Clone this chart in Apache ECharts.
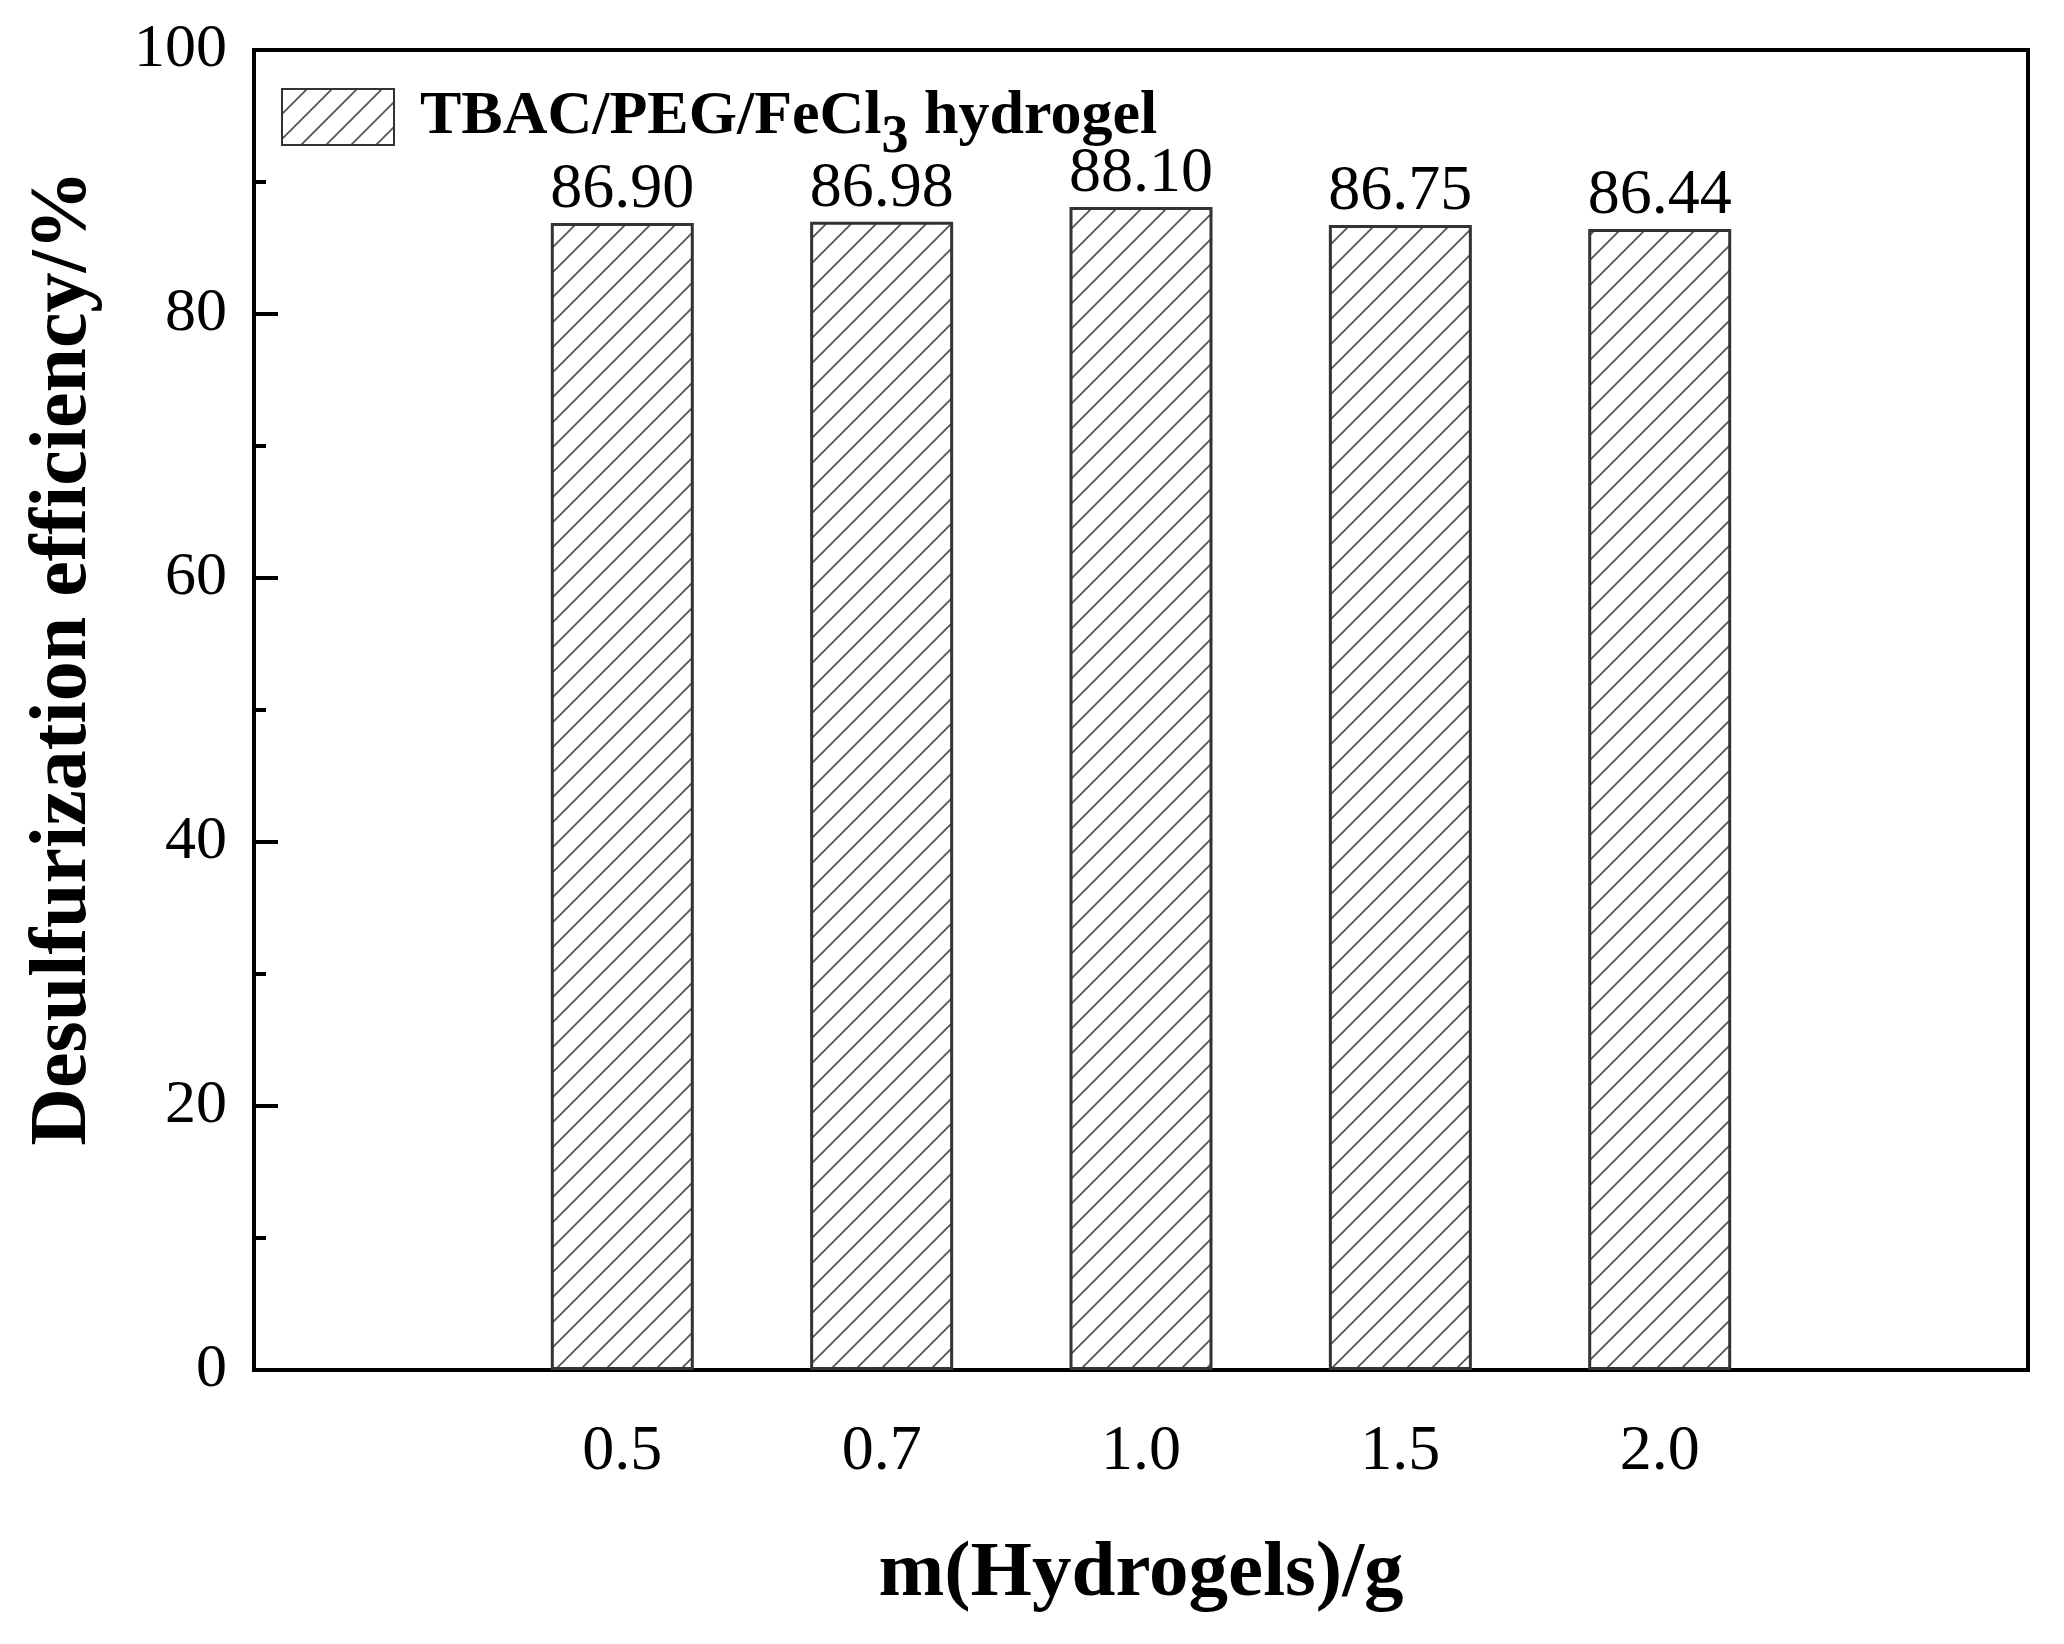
<!DOCTYPE html>
<html>
<head>
<meta charset="utf-8">
<title>Desulfurization efficiency vs hydrogel mass</title>
<script src="https://cdn.jsdelivr.net/npm/echarts@6/dist/echarts.min.js"></script>
<style>
    html, body { margin: 0; padding: 0; background: #fff; }
    #chart { width: 2064px; height: 1644px; }
</style>
</head>
<body>
<div id="chart"></div>
<script>
// Data
const massLabels = ['0.5', '0.7', '1.0', '1.5', '2.0'];
const efficiency = [86.90, 86.98, 88.10, 86.75, 86.44];
const yTicks = { min: 0, max: 100, interval: 20 };

const FONT = '"Liberation Serif", "Times New Roman", serif';

// hatch fill "/" for the bars
function makeHatch() {
    const s = 25;
    const c = document.createElement('canvas');
    c.width = s; c.height = s;
    const ctx = c.getContext('2d');
    ctx.fillStyle = '#fff';
    ctx.fillRect(0, 0, s, s);
    ctx.strokeStyle = '#555';
    ctx.lineWidth = 1.8;
    ctx.beginPath();
    ctx.moveTo(-2, s + 2); ctx.lineTo(s + 2, -2);
    ctx.moveTo(-2, 2); ctx.lineTo(2, -2);
    ctx.moveTo(s - 2, s + 2); ctx.lineTo(s + 2, s - 2);
    ctx.stroke();
    return c;
}

const chart = echarts.init(document.getElementById('chart'));
chart.setOption({
    backgroundColor: '#fff',
    animation: false,
    grid: {
        left: 254, right: 36, top: 50, bottom: 274,
        show: true, borderColor: '#000', borderWidth: 4
    },
    legend: {
        left: 281, top: 86, padding: 0,
        itemWidth: 112, itemHeight: 56, itemGap: 32,
        icon: 'rect',
        formatter: () => '{g|}{b|TBAC/PEG/FeCl}{sub|3}{b| hydrogel}',
        textStyle: {
            color: '#000',
            rich: {
                g: { width: 21 },
                b: { fontFamily: FONT, fontWeight: 'bold', fontSize: 62, lineHeight: 56, color: '#000' },
                sub: {
                    fontFamily: FONT, fontWeight: 'bold', fontSize: 54, lineHeight: 36,
                    verticalAlign: 'top', padding: [22, 0, 0, 0], color: '#000'
                }
            }
        }
    },
    xAxis: {
        type: 'value',
        min: -1.42, max: 5.42,
        name: 'm(Hydrogels)/g',
        nameLocation: 'middle',
        nameGap: 165,
        nameTextStyle: { fontFamily: FONT, fontWeight: 'bold', fontSize: 79, color: '#000' },
        axisLine: { show: true, onZero: false, lineStyle: { color: '#000', width: 4 } },
        axisTick: { show: false },
        splitLine: { show: false },
        axisLabel: {
            customValues: massLabels.map((_, i) => i),
            formatter: v => massLabels[Math.round(v)],
            margin: 50,
            fontFamily: FONT, fontSize: 64, color: '#000'
        }
    },
    yAxis: {
        type: 'value',
        min: yTicks.min, max: yTicks.max, interval: yTicks.interval,
        name: 'Desulfurization efficiency/%',
        nameLocation: 'middle',
        nameGap: 150,
        nameTextStyle: {
            fontFamily: FONT, fontWeight: 'bold', fontSize: 80, color: '#000',
            padding: [0, 0, 0, 104]
        },
        axisLine: { show: true, onZero: false, lineStyle: { color: '#000', width: 4 } },
        axisTick: { show: true, inside: true, length: 24, lineStyle: { color: '#000', width: 4 } },
        minorTick: { show: true, splitNumber: 2, length: 12, lineStyle: { color: '#000', width: 4 } },
        splitLine: { show: false },
        minorSplitLine: { show: false },
        axisLabel: { margin: 27, fontFamily: FONT, fontSize: 62, color: '#000' }
    },
    series: [{
        name: 'TBAC/PEG/FeCl3 hydrogel',
        type: 'bar',
        barWidth: 143,
        data: efficiency.map((v, i) => [i, v]),
        itemStyle: {
            color: { image: makeHatch(), repeat: 'repeat' },
            borderColor: '#333',
            borderWidth: 3
        },
        label: {
            show: true,
            position: 'top',
            distance: 1,
            formatter: p => p.value[1].toFixed(2),
            fontFamily: FONT, fontSize: 64, color: '#000'
        }
    }]
});
</script>
</body>
</html>
